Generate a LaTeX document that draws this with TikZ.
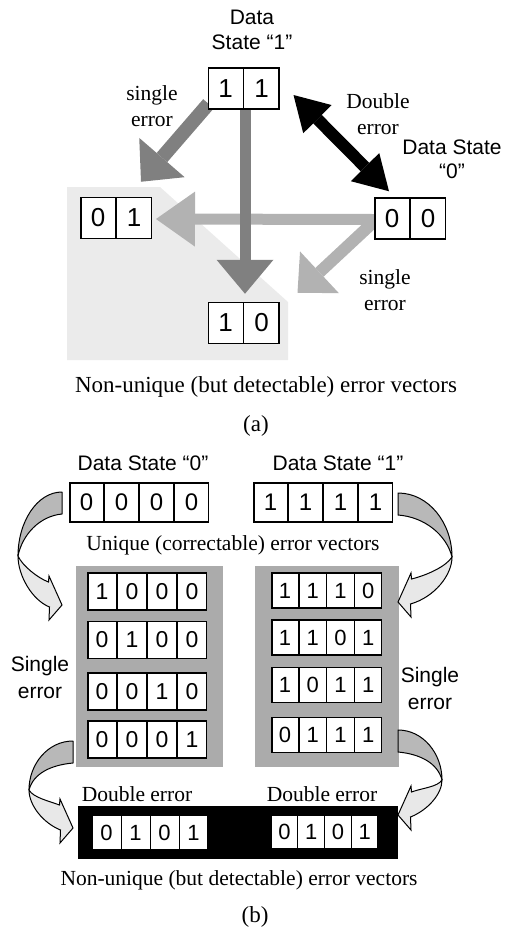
\documentclass[tikz,border=0pt]{standalone}
\usepackage{fontspec}
\setmainfont{Liberation Serif}
\setsansfont{Liberation Sans}
\usetikzlibrary{arrows.meta,shapes.multipart}
\pgfdeclarelayer{shadelayer}
\pgfdeclarelayer{arrowlayer}
\pgfsetlayers{shadelayer,arrowlayer,main}
\definecolor{shadeA}{gray}{0.92}
\definecolor{arrDark}{gray}{0.50}
\definecolor{arrLight}{gray}{0.70}
\definecolor{panelG}{gray}{0.67}
\definecolor{twDark}{gray}{0.72}
\definecolor{twLight}{gray}{0.91}
\newcommand\dg[3]{\parbox[c][#2][c]{#1}{\centering #3}}
\newcommand\twobits[4]{\dg{#1}{#2}{#3}\nodepart{two}\dg{#1}{#2}{#4}}
\newcommand\fourbits[6]{\dg{#1}{#2}{#3}\nodepart{two}\dg{#1}{#2}{#4}\nodepart{three}\dg{#1}{#2}{#5}\nodepart{four}\dg{#1}{#2}{#6}}
\newcommand\twistarrow[6]{%
  \begin{scope}[shift={(#1,#2)},xscale=#3]
    \filldraw[fill=twDark,draw=black,line width=1pt,line join=round]
      (0,0) .. controls ({-0.57*#4},0) and ({-#4},{0.47*#5}) .. ({-#4},#5)
      .. controls ({-0.9*#4},{0.66*#5}) and ({-0.5*#4},24) .. (0,22) -- cycle;
    \filldraw[fill=twLight,draw=black,line width=1pt,line join=miter]
      ({-#4},#5) .. controls ({-#4},{#5+0.4*(#6-#5)}) and ({-0.68*#4},{#6-5}) .. (-12.5,{#6+2})
      -- (-13,{#6+15}) -- (0,#6) -- (-13,{#6-29}) -- (-13.5,{#6-23})
      .. controls ({-0.55*#4},{#6-27}) and ({-0.9*#4},{#5+0.2*(#6-#5)}) .. ({-#4},#5) -- cycle;
  \end{scope}}
\tikzset{
  bits/.style={rectangle split, rectangle split horizontal, rectangle split parts=#1,
    draw, line width=1.5pt, inner sep=0pt, fill=white},
  serlbl/.style={font=\fontsize{21.5}{26}\selectfont, align=center, inner sep=0pt},
  caplbl/.style={font=\fontsize{23}{27}\selectfont, align=center, inner sep=0pt},
  sanslbl/.style={font=\sffamily\fontsize{21}{25}\selectfont, align=center, inner sep=0pt},
  digA/.style={font=\sffamily\fontsize{26}{26}\selectfont},
  digB/.style={font=\sffamily\fontsize{24}{24}\selectfont},
  digC/.style={font=\sffamily\fontsize{23}{23}\selectfont},
  digD/.style={font=\sffamily\fontsize{22}{22}\selectfont},
  fatarrow/.style={line width=#1},
}
\begin{document}
\begin{tikzpicture}[x=1pt,y=-1pt]
\useasboundingbox (0,0) rectangle (504,930);

% ---------------- (a) ----------------
\begin{pgfonlayer}{shadelayer}
  \fill[shadeA] (67,187) -- (160,187) -- (288,302) -- (288,360) -- (67,360) -- cycle;
\end{pgfonlayer}

\node[bits=2, digA] (b11) at (243.5,88.5) {\twobits{34.5pt}{41pt}{1}{1}};
\node[bits=2, digA] (b01) at (116,218) {\twobits{34.5pt}{41pt}{0}{1}};
\node[bits=2, digA] (b00) at (410,218.5) {\twobits{34.5pt}{41pt}{0}{0}};
\node[bits=2, digA] (b10) at (243.5,323) {\twobits{34.5pt}{41pt}{1}{0}};

\begin{pgfonlayer}{arrowlayer}
  \draw[fatarrow=11pt, arrLight, -{Triangle[length=39pt,width=55pt,line width=0pt]}]
    ([yshift=-1pt]b00.west) -- ([xshift=4pt,yshift=-1pt]b01.east);
  \draw[fatarrow=12pt, arrLight, -{Triangle[length=30pt,width=57pt,line width=0pt]}]
    ([yshift=-3pt]b00.west) -- ([xshift=18pt,yshift=9pt]b10.north east);
  \draw[fatarrow=11pt, arrDark, -{Triangle[length=34pt,width=57pt,line width=0pt]}]
    ([xshift=1.5pt]b11.south) -- ([xshift=1.5pt,yshift=8pt]b10.north);
  \draw[fatarrow=14pt, arrDark, -{Triangle[length=32pt,width=60pt,line width=0pt]}]
    ([xshift=1pt,yshift=6pt]b11.south west) -- ([xshift=-11pt,yshift=15pt]b01.north east);
  \draw[fatarrow=12pt, black, {Triangle[length=34pt,width=40pt,line width=0pt]}-{Triangle[length=34pt,width=40pt,line width=0pt]}]
    ([xshift=14pt,yshift=-6.5pt]b11.east) -- ([xshift=15pt,yshift=6pt]b00.north west);
\end{pgfonlayer}

\node[sanslbl] (t1) at (252,30) {Data\\State “1”};
\node[serlbl] (se1) at (152,106) {single\\error};
\node[serlbl] (de1) at (378,114) {Double\\error};
\node[sanslbl, font=\sffamily\fontsize{21}{24}\selectfont] (t0) at (452,159) {Data State\\“0”};
\node[serlbl] (se2) at (385,290) {single\\error};
\node[caplbl] (capa) at (266,387) {Non-unique (but detectable) error vectors};
\node[caplbl] (laba) at (256,426) {(a)};

% ---------------- (b) ----------------
\node[sanslbl] (ds0) at (143,463) {Data State “0”};
\node[sanslbl] (ds1) at (338,463) {Data State “1”};
\node[bits=4, digB] (c0000) at (139,502.5) {\fourbits{33.5pt}{39pt}{0}{0}{0}{0}};
\node[bits=4, digB] (c1111) at (323,502.5) {\fourbits{33.5pt}{39pt}{1}{1}{1}{1}};
\node[serlbl] (uq) at (233,545) {Unique (correctable) error vectors};

\node[fill=panelG, minimum width=147pt, minimum height=201pt, inner sep=0pt] (pL) at (149.5,666.5) {};
\node[fill=panelG, minimum width=144pt, minimum height=201pt, inner sep=0pt] (pR) at (327,666.5) {};

\node[bits=4, digC] (l1) at (147,591.5) {\fourbits{28.5pt}{37pt}{1}{0}{0}{0}};
\node[bits=4, digC] (l2) at (147,640) {\fourbits{28.5pt}{37pt}{0}{1}{0}{0}};
\node[bits=4, digC] (l3) at (147,691.5) {\fourbits{28.5pt}{37pt}{0}{0}{1}{0}};
\node[bits=4, digC] (l4) at (147,739.5) {\fourbits{28.5pt}{37pt}{0}{0}{0}{1}};

\node[bits=4, digD] (r1) at (326.5,590.5) {\fourbits{26.25pt}{35pt}{1}{1}{1}{0}};
\node[bits=4, digD] (r2) at (326.5,637.5) {\fourbits{26.25pt}{35pt}{1}{1}{0}{1}};
\node[bits=4, digD] (r3) at (326.5,685) {\fourbits{26.25pt}{35pt}{1}{0}{1}{1}};
\node[bits=4, digD] (r4) at (326.5,735) {\fourbits{26.25pt}{35pt}{0}{1}{1}{1}};

\node[sanslbl, font=\sffamily\fontsize{21}{27}\selectfont] (sl) at (40,677.5) {Single\\error};
\node[sanslbl, font=\sffamily\fontsize{21}{27}\selectfont] (sr) at (430,688.5) {Single\\error};

\node[serlbl] (del) at (137,794) {Double error};
\node[serlbl] (der) at (322,794) {Double error};

\node[fill=black, minimum width=320pt, minimum height=53pt, inner sep=0pt] (pB) at (238,832.5) {};
\node[bits=4, digD, line width=1pt] (d1) at (150,832.5) {\fourbits{28pt}{34pt}{0}{1}{0}{1}};
\node[bits=4, digD, line width=1pt] (d2) at (324.5,832) {\fourbits{25.75pt}{33pt}{0}{1}{0}{1}};

\node[serlbl] (capb) at (239,880) {Non-unique (but detectable) error vectors};
\node[caplbl] (labb) at (255,917) {(b)};

\twistarrow{62}{492}{1}{44}{64}{113}
\twistarrow{398}{493}{-1}{54}{64}{109}
\twistarrow{73}{741}{1}{44}{49}{87}
\twistarrow{398}{730}{-1}{44}{50}{85}
\end{tikzpicture}
\end{document}
